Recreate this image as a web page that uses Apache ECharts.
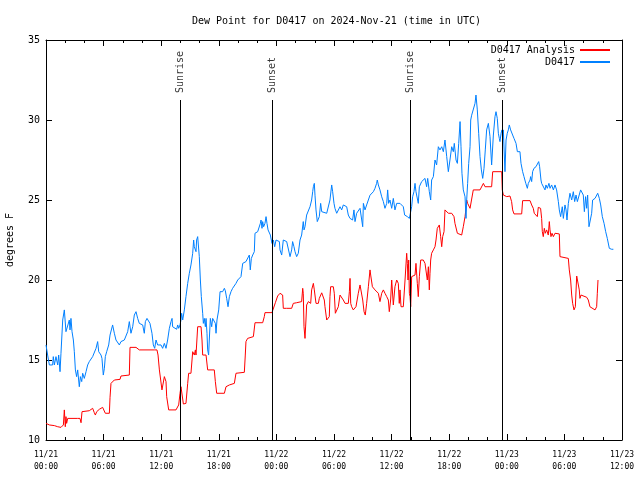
<!DOCTYPE html>
<html>
<head>
<meta charset="utf-8">
<script src="https://cdn.jsdelivr.net/npm/echarts@6/dist/echarts.min.js"></script>
<style>html,body{margin:0;padding:0;background:#fff}#c{width:640px;height:480px}</style>
</head>
<body>
<div id="c"></div>
<script>
// Hours since 2024-11-21 00:00 UTC
const xTickLabels = ["11/21\n00:00","11/21\n06:00","11/21\n12:00","11/21\n18:00","11/22\n00:00","11/22\n06:00","11/22\n12:00","11/22\n18:00","11/23\n00:00","11/23\n06:00","11/23\n12:00"];

const obsHours = [0,0.17,0.35,0.69,0.76,0.87,1.04,1.22,1.32,1.46,1.56,1.74,1.91,2.01,2.08,2.26,2.43,2.5,2.6,2.71,2.85,2.95,3.06,3.19,3.3,3.47,3.58,3.72,3.82,3.99,4.17,4.34,4.51,4.69,4.86,5.03,5.21,5.38,5.49,5.63,5.73,5.83,5.97,6.08,6.18,6.32,6.53,6.67,6.81,6.94,7.12,7.29,7.47,7.64,7.81,7.99,8.16,8.33,8.51,8.68,8.85,9.03,9.2,9.375,9.55,9.72,9.9,10.07,10.24,10.35,10.52,10.69,10.83,11.04,11.18,11.32,11.46,11.63,11.81,11.98,12.15,12.33,
12.5,12.67,12.85,13.02,13.13,13.19,13.37,13.61,13.72,13.82,13.96,14.06,14.13,14.24,14.41,14.58,14.76,14.93,15.1,15.28,15.38,15.45,15.56,15.625,15.69,15.8,15.9,15.97,16.08,16.18,16.32,16.39,16.49,16.6,16.67,16.77,16.84,16.94,17.01,17.12,17.26,17.36,17.53,17.64,17.71,17.81,17.99,18.13,18.23,18.4,18.58,18.68,18.82,18.96,19.1,19.27,19.44,19.62,19.79,19.97,20.14,20.31,20.49,20.83,21.0,21.18,21.28,21.39,21.53,21.7,21.77,22.05,22.22,22.33,22.4,22.5,22.57,22.67,22.81,22.92,23.02,23.13,23.26,23.37,23.54,23.68,23.82,23.96,24.13,24.31,
24.375,24.55,24.72,24.9,25.07,25.24,25.42,25.59,25.69,25.83,25.94,26.11,26.28,26.46,26.63,26.8,26.875,26.98,27.15,27.33,27.5,27.67,27.78,27.85,27.95,28.02,28.125,28.26,28.47,28.61,28.72,28.89,29.24,29.41,29.58,29.76,29.86,30.0,30.1,30.28,30.45,30.625,30.8,30.97,31.15,31.32,31.49,31.67,31.84,31.94,32.08,32.19,32.36,32.53,32.71,32.88,32.99,33.06,33.23,33.4,33.58,33.75,33.92,34.1,34.27,34.44,34.51,34.62,34.79,34.97,35.14,35.31,35.49,35.59,35.69,35.83,36.01,36.18,36.35,36.53,36.7,
36.875,37.05,37.22,37.36,37.5,37.64,37.85,37.99,38.09,38.19,38.33,38.44,38.54,38.68,38.78,38.89,39.03,39.13,39.3,39.48,39.65,39.76,39.93,40.07,40.17,40.35,40.52,40.69,40.87,41.04,41.22,41.39,41.56,41.74,41.91,42.08,42.26,42.43,42.53,42.71,42.85,42.99,43.13,43.23,43.33,43.47,43.65,43.75,43.82,43.92,44.03,44.17,44.24,44.34,44.51,44.69,44.79,44.93,45.07,45.21,45.35,45.49,45.625,45.76,45.9,46.08,46.25,46.42,46.6,46.77,46.875,47.01,47.12,47.22,47.29,47.4,47.5,47.57,
47.64,47.81,47.92,48.05,48.16,48.26,48.4,48.61,48.75,48.96,49.1,49.37,49.48,49.65,49.79,49.98,50.14,50.24,50.42,50.48,50.59,50.69,50.83,51.04,51.18,51.32,51.42,51.56,51.63,51.8,51.98,52.08,52.22,52.39,52.5,52.67,52.85,53.02,53.19,53.37,53.47,53.61,53.78,53.89,54.06,54.17,54.27,54.41,54.58,54.76,54.93,55.07,55.21,55.35,55.55,55.69,55.8,55.97,56.08,56.21,56.32,56.42,56.56,56.74,56.84,56.94,57.19,57.36,57.47,57.64,57.78,57.95,58.13,58.3,58.47,58.68,58.92,59.1];

const obsDewpt = [15.94,15.31,14.69,14.69,15.21,14.69,15.21,14.69,15.31,14.27,15.42,17.5,18.13,18.23,16.77,16.88,17.5,16.88,17.6,16.77,16.25,15.52,14.38,13.96,14.38,13.33,13.96,13.65,14.17,13.85,14.27,14.69,14.9,15.0,15.21,15.31,15.73,16.15,15.52,15.63,15.31,15.1,14.06,14.48,15.21,15.52,15.94,16.56,16.46,17.19,16.67,16.25,16.35,15.94,16.15,16.04,16.25,16.35,16.77,17.4,16.67,17.08,17.81,18.02,17.6,17.29,17.4,17.19,16.67,17.4,17.6,17.5,17.29,16.67,15.94,15.73,16.25,15.94,16.04,15.94,15.73,16.04,
15.73,16.25,16.98,17.4,17.6,17.08,16.98,16.92,17.19,16.98,17.19,17.5,17.92,17.5,18.13,18.96,19.79,20.42,20.94,21.67,22.5,22.08,22.19,21.77,22.5,22.71,22.6,21.46,20.0,18.96,17.92,17.29,17.6,17.08,17.6,16.67,15.63,15.31,16.25,17.6,17.08,17.6,17.71,17.29,16.67,17.5,18.13,19.27,19.38,19.27,19.48,19.33,18.85,18.33,18.96,19.27,19.48,19.54,19.79,20.0,20.0,20.21,21.04,21.15,21.25,21.56,20.63,21.35,21.56,21.77,22.92,23.02,23.13,23.54,23.75,23.23,23.65,23.33,23.54,23.96,23.54,23.13,23.23,22.81,22.29,22.5,22.08,22.5,22.4,22.4,
21.88,21.56,22.5,22.6,22.4,22.29,21.46,21.88,22.4,22.08,21.77,21.46,21.67,22.5,22.81,23.65,23.13,23.33,24.06,24.17,24.58,25.0,25.52,25.83,26.04,25.3,24.38,23.65,23.96,24.79,24.27,24.17,24.17,24.17,25.0,25.94,25.52,24.79,24.48,24.17,24.06,24.58,24.38,24.69,24.58,24.58,24.06,23.85,23.96,23.75,24.38,23.65,24.17,24.27,24.48,24.38,23.33,24.79,24.38,24.69,24.58,25.3,25.42,25.52,25.73,26.04,26.25,25.94,25.63,25.2,24.9,24.48,24.79,25.63,24.79,25.0,24.48,25.1,24.38,24.79,24.79,
24.79,24.83,24.58,24.06,24.17,23.96,23.85,24.27,24.58,25.2,25.52,26.04,25.52,25.42,24.79,25.83,25.83,26.15,26.25,26.35,25.83,26.35,25.52,25.0,26.25,26.46,27.5,27.19,28.33,28.13,28.33,28.02,28.75,27.71,26.77,27.5,28.33,28.02,28.54,27.5,27.29,28.54,29.9,28.33,26.67,25.63,25.2,23.85,25.0,26.04,27.29,28.33,30.0,30.3,30.42,31.04,31.56,30.63,29.17,27.71,26.88,26.35,26.98,28.13,29.38,29.79,28.96,27.19,29.06,30.21,30.52,30.1,29.17,28.85,28.65,29.17,29.38,28.75,
29.38,26.77,28.75,29.17,29.38,29.69,29.38,29.06,28.85,28.54,28.02,28.02,27.29,26.77,26.46,26.04,25.73,26.04,26.25,26.46,26.15,26.77,26.98,27.08,27.04,27.4,27.08,26.25,26.04,25.94,25.63,25.94,25.73,26.04,25.73,25.94,25.63,25.94,25.63,24.9,24.38,23.96,24.58,23.85,24.69,24.38,23.75,24.79,25.42,25.0,25.52,24.9,25.31,24.9,25.0,25.63,25.73,25.31,24.27,25.21,24.48,25.31,23.33,23.33,24.17,25.0,25.1,25.21,25.42,25.1,24.69,23.96,23.54,23.02,22.6,21.98,21.92,21.92];

const anaHours = [0,0.17,0.35,0.87,1.22,1.56,1.74,1.81,1.91,2.01,2.08,2.15,2.26,2.43,3.3,3.54,3.65,3.75,4.51,4.86,5.03,5.14,5.28,5.38,5.56,5.73,5.9,6.08,6.18,6.6,6.67,6.77,7.12,7.71,7.81,8.68,8.75,9.375,9.72,11.28,11.56,11.67,11.81,11.98,12.08,12.22,12.33,12.5,12.57,12.78,
12.85,13.54,13.82,13.96,14.06,14.24,14.31,14.58,14.76,14.86,15.1,15.28,15.45,15.56,15.625,15.8,16.15,16.25,16.32,16.67,16.84,17.53,17.64,17.78,18.58,18.75,18.92,19.1,19.62,19.79,20.66,20.76,20.83,21.0,21.6,21.77,22.57,22.74,22.81,23.54,23.72,23.89,24.13,
24.375,24.55,24.65,24.72,25.07,25.59,25.76,26.11,26.63,26.74,26.8,26.875,26.98,27.08,27.15,27.33,27.57,27.67,27.85,27.95,28.125,28.37,28.47,28.72,28.89,28.99,29.06,29.24,29.34,29.51,29.58,29.65,29.93,30.03,30.14,30.28,30.45,30.625,30.8,30.97,31.15,31.49,31.6,31.67,31.74,31.84,32.01,32.19,32.29,32.43,32.53,32.71,32.88,32.99,33.13,33.26,33.4,33.58,33.75,33.82,34.0,34.27,34.44,34.62,34.79,34.97,35.14,35.31,35.49,35.66,35.76,35.9,36.01,36.18,36.35,36.53,36.7,36.8,
36.875,36.98,37.22,37.4,37.5,37.57,37.64,37.71,37.78,37.85,37.92,37.99,38.09,38.44,38.54,38.68,38.78,38.89,39.03,39.3,39.48,39.65,39.72,39.83,39.93,40.0,40.07,40.17,40.35,40.52,40.625,40.76,40.87,40.97,41.11,41.22,41.32,41.46,41.56,41.74,41.91,42.26,42.36,42.5,42.6,42.85,43.3,43.47,43.65,43.75,43.82,43.92,44.03,44.17,44.34,44.51,45.21,45.38,45.56,45.73,46.42,46.53,47.47,47.53,47.64,47.81,47.99,48.16,
48.33,48.5,48.61,48.75,49.55,49.65,50.42,50.59,50.76,50.86,51.04,51.18,51.28,51.52,51.63,51.7,51.8,51.91,52.01,52.15,52.32,52.43,52.5,52.6,52.71,52.85,53.02,53.47,53.54,53.71,54.41,54.51,54.65,54.76,54.86,55.0,55.14,55.28,55.45,55.55,55.62,55.73,56.32,56.49,56.66,56.84,57.19,57.36,57.43,57.5];

const anaDewpt = [11.04,11.15,10.94,10.9,10.83,10.79,10.73,10.94,11.88,10.83,11.46,11.04,11.35,11.46,11.35,11.35,11.08,11.77,11.83,11.98,11.71,11.56,11.77,11.67,11.92,11.88,12.04,12.08,11.67,11.67,12.67,13.54,13.75,13.79,14.0,14.06,15.79,15.79,15.63,15.63,15.63,15.31,14.38,14.27,13.13,13.13,13.96,13.65,12.71,11.88,
11.88,11.88,12.19,12.92,13.33,13.44,12.25,12.29,13.54,14.17,14.17,15.52,15.31,15.63,15.31,17.08,17.08,16.25,15.31,15.31,14.38,14.38,13.65,12.92,12.92,13.33,13.23,13.44,13.54,14.17,14.23,15.31,16.15,16.35,16.46,17.33,17.33,17.71,17.96,17.96,18.02,18.58,19.0,
19.17,19.27,19.06,18.23,18.23,18.23,18.54,18.58,18.65,19.48,19.17,17.08,16.35,17.5,18.44,18.65,18.54,19.38,19.79,19.38,18.54,18.54,18.85,19.2,19.17,18.75,18.33,17.5,17.4,17.71,18.96,19.58,19.58,19.17,17.92,17.81,18.33,19.06,18.96,18.75,18.54,18.54,19.27,20.1,18.54,18.33,18.13,18.13,18.33,18.33,19.17,19.69,19.69,18.75,18.02,17.81,18.54,19.58,20.63,20.31,19.58,19.38,19.48,19.17,18.65,19.17,19.38,19.17,18.96,18.75,18.02,18.75,20.0,18.44,19.58,20.0,19.79,18.54,
19.38,18.33,18.33,20.0,20.0,21.67,21.04,20.0,21.25,19.17,18.96,18.33,20.21,20.31,21.04,19.79,18.96,20.21,21.25,21.25,21.04,21.15,20.0,20.83,19.38,20.42,21.25,21.67,21.88,22.08,22.5,23.23,23.33,23.44,22.71,22.08,22.71,23.02,24.38,24.27,24.17,24.17,24.27,23.96,23.54,22.92,22.81,23.33,23.96,24.48,25.0,24.79,24.79,24.48,24.58,25.63,25.63,25.73,26.04,25.83,25.83,26.77,26.77,25.63,25.31,25.21,25.21,25.1,
25.25,24.9,24.38,24.13,24.13,24.96,24.96,24.69,24.48,24.17,24.06,23.96,24.54,24.48,23.85,23.02,22.71,23.23,22.92,23.13,22.81,23.65,23.13,22.71,22.92,22.71,22.92,22.88,21.46,21.35,21.35,20.63,20.0,19.06,18.54,18.13,18.33,20.25,20.25,19.38,18.85,19.06,18.92,18.75,18.33,18.23,18.13,18.33,19.17,20.0];

const eventNames = ["Sunrise","Sunset","Sunrise","Sunset"];
const eventHours = [13.98, 23.6, 37.98, 47.55];
const eventTop = 31.25;

const MONO = '"DejaVu Sans Mono", "Liberation Mono", monospace';
const obsData = obsHours.map((h, i) => [h, obsDewpt[i]]);
const anaData = anaHours.map((h, i) => [h, anaDewpt[i]]);

const chart = echarts.init(document.getElementById('c'), null, {renderer: 'canvas'});
const axisCommon = {
  min: 0, max: 60, interval: 6,
  axisLine: {show: true, onZero: false, lineStyle: {color: '#000', width: 1}},
  axisTick: {show: true, inside: true, length: 6, lineStyle: {color: '#000'}},
  minorTick: {show: true, splitNumber: 3, length: 3, lineStyle: {color: '#000'}},
  splitLine: {show: false}
};
const yCommon = {
  min: 10, max: 35, interval: 5,
  axisLine: {show: true, onZero: false, lineStyle: {color: '#000', width: 1}},
  axisTick: {show: true, inside: true, length: 6, lineStyle: {color: '#000'}},
  splitLine: {show: false}
};
chart.setOption({
  animation: false,
  backgroundColor: '#fff',
  title: {
    text: 'Dew Point for D0417 on 2024-Nov-21 (time in UTC)',
    left: 187, top: 11,
    textStyle: {fontFamily: MONO, fontSize: 10, fontWeight: 'normal', color: '#000'}
  },
  legend: {
    data: ['D0417 Analysis', 'D0417'],
    orient: 'vertical', right: 30, top: 45, align: 'right',
    itemWidth: 30, itemHeight: 2, itemGap: 2, icon: 'rect', padding: 0,
    textStyle: {fontFamily: MONO, fontSize: 10, color: '#000'}
  },
  grid: {left: 46, right: 18, top: 40, bottom: 40, containLabel: false, outerBoundsMode: 'none'},
  xAxis: [
    Object.assign({type: 'value', position: 'bottom',
      axisLabel: {show: true, fontFamily: MONO, fontSize: 8, color: '#000', lineHeight: 12, margin: 9,
        formatter: v => xTickLabels[Math.round(v / 6)] || ''}}, axisCommon),
    Object.assign({type: 'value', position: 'top', axisLabel: {show: false}}, axisCommon)
  ],
  yAxis: [
    Object.assign({type: 'value', position: 'left', name: 'degrees F', nameLocation: 'middle', nameGap: 31, nameRotate: 90,
      nameTextStyle: {fontFamily: MONO, fontSize: 10, color: '#000'},
      axisLabel: {show: true, fontFamily: MONO, fontSize: 10, color: '#000', margin: 6}}, yCommon),
    Object.assign({type: 'value', position: 'right', axisLabel: {show: false}}, yCommon)
  ],
  series: [
    {name: 'D0417 Analysis', type: 'line', data: anaData, showSymbol: false, symbol: 'none',
      lineStyle: {color: '#ff0000', width: 1}, itemStyle: {color: '#ff0000'}, z: 2},
    {name: 'D0417', type: 'line', data: obsData, showSymbol: false, symbol: 'none',
      lineStyle: {color: '#0080ff', width: 1}, itemStyle: {color: '#0080ff'}, z: 3},
    {name: 'events', type: 'scatter', symbolSize: 0, z: 4,
      data: eventHours.map((h, i) => ({value: [h, eventTop], name: eventNames[i]})),
      label: {show: true, position: 'top', distance: 7, rotate: 90, align: 'left', verticalAlign: 'middle',
        formatter: p => p.name, fontFamily: MONO, fontSize: 10, color: '#000'},
      markLine: {silent: true, symbol: ['none', 'none'], label: {show: false},
        lineStyle: {color: '#000', width: 1, type: 'solid'},
        data: eventHours.map(h => [{coord: [h, 10]}, {coord: [h, eventTop]}])}
    }
  ]
});
</script>
</body>
</html>
